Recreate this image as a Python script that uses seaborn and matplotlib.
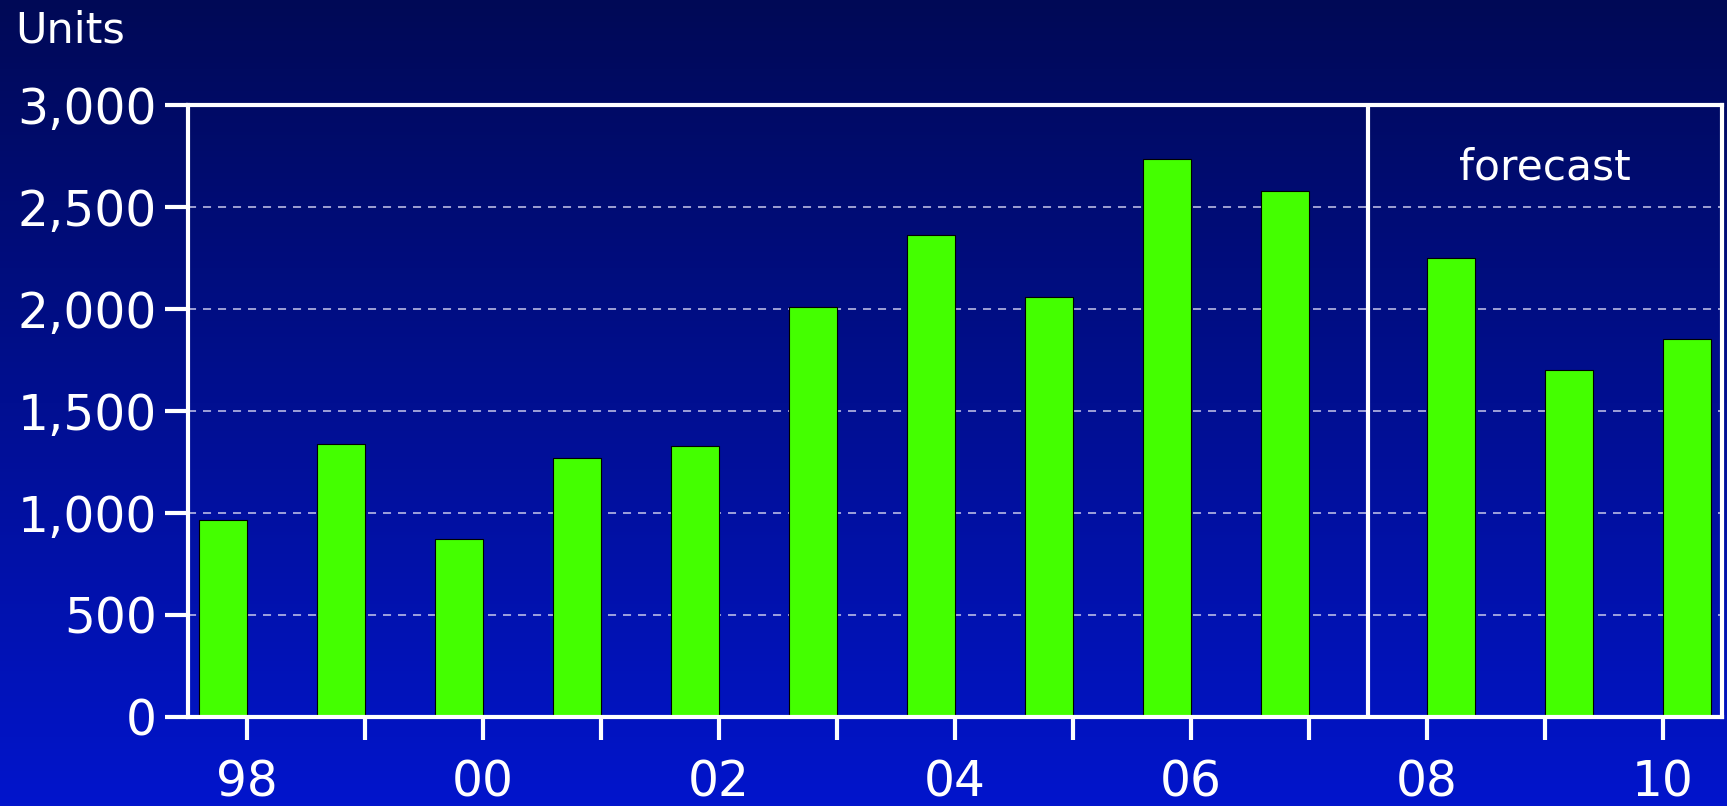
import numpy as np
import pandas as pd
import matplotlib
matplotlib.use("Agg")
import matplotlib.pyplot as plt
import seaborn as sns

# ---- data ----
hist_years = [1998, 1999, 2000, 2001, 2002, 2003, 2004, 2005, 2006, 2007]
hist_units = [965, 1338, 873, 1268, 1327, 2008, 2364, 2056, 2737, 2580]
fcst_years = [2008, 2009, 2010]
fcst_units = [2251, 1700, 1851]

x_ticks = list(range(1998, 2011))
x_labels = ["98", "", "00", "", "02", "", "04", "", "06", "", "08", "", "10"]
y_ticks = [0, 500, 1000, 1500, 2000, 2500, 3000]
y_labels = ["0", "500", "1,000", "1,500", "2,000", "2,500", "3,000"]
y_title = "Units"
forecast_label = "forecast"

# ---- style ----
BAR_COLOR = "#44ff00"
TOP_COLOR = np.array([0x00, 0x09, 0x56]) / 255
BOTTOM_COLOR = np.array([0x02, 0x15, 0xcc]) / 255
BAR_W = 0.41

sns.set_theme(style="white")
plt.rcParams["font.family"] = ["DejaVu Sans"]
plt.rcParams["lines.scale_dashes"] = False

fig = plt.figure(figsize=(17.27, 8.06), dpi=100)

# vertical gradient background over the whole figure
bg = fig.add_axes([0, 0, 1, 1], zorder=-10)
t = np.linspace(0, 1, 256)[:, None]
grad = TOP_COLOR[None, None, :] * (1 - t[..., None]) + BOTTOM_COLOR[None, None, :] * t[..., None]
bg.imshow(np.repeat(grad, 2, axis=1), aspect="auto", extent=[0, 1, 0, 1])
bg.set_axis_off()

ax = fig.add_axes([0.1089, 0.111, 0.8881, 0.7587])
ax.patch.set_alpha(0)

# actual years sit left of their tick, forecast years right of it
df = pd.DataFrame({
    "pos": [y - BAR_W / 2 for y in hist_years] + [y + BAR_W / 2 for y in fcst_years],
    "units": hist_units + fcst_units,
})
sns.barplot(data=df, x="pos", y="units", native_scale=True, orient="x",
            width=BAR_W, color=BAR_COLOR, saturation=1,
            edgecolor="black", linewidth=0.8, errorbar=None, ax=ax, zorder=3)

# divider between actuals and forecast
split = (hist_years[-1] + fcst_years[0]) / 2
ax.axvline(split, color="white", lw=3, zorder=4)

ax.text((split + x_ticks[-1] + 0.5) / 2, 2637, forecast_label, color="white",
        fontsize=30.5, ha="center", va="baseline", zorder=5)

ax.set_xlim(x_ticks[0] - 0.5, x_ticks[-1] + 0.5)
ax.set_ylim(y_ticks[0], y_ticks[-1])
ax.set_xticks(x_ticks)
ax.set_xticklabels(x_labels)
ax.set_yticks(y_ticks)
ax.set_yticklabels(y_labels)
ax.set_xlabel("")
ax.set_ylabel("")

ax.yaxis.grid(True, color="#c8c8ec", lw=1.1, linestyle=(0, (5.8, 5.0)), zorder=1)
ax.xaxis.grid(False)
ax.set_axisbelow(True)

for s in ax.spines.values():
    s.set_visible(True)
    s.set_color("white")
    s.set_linewidth(3.0)
    s.set_zorder(6)

ax.tick_params(axis="both", colors="white", direction="out",
               length=16.5, width=3.0)
ax.tick_params(axis="y", labelsize=35, pad=6, left=True)
ax.tick_params(axis="x", labelsize=35, pad=14, bottom=True)

fig.text(0.0087, 0.9467, y_title, color="white", fontsize=31,
         ha="left", va="baseline")

fig.savefig("out.png", dpi=100)
